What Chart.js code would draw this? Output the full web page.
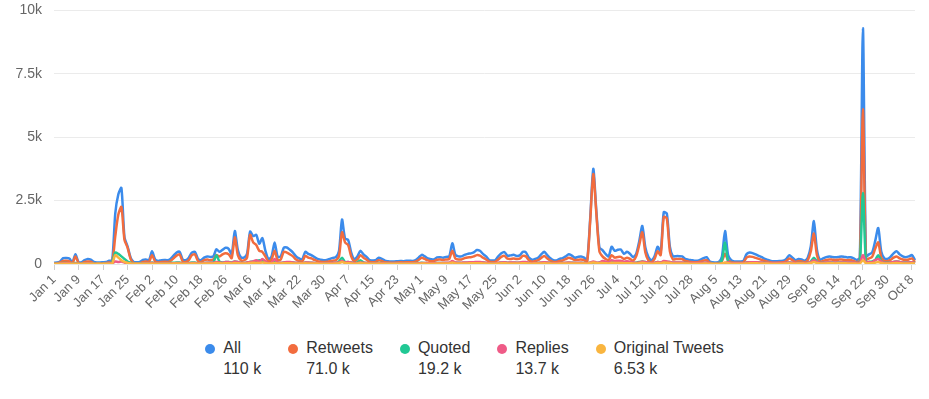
<!DOCTYPE html>
<html>
<head>
<meta charset="utf-8">
<script src="https://cdn.jsdelivr.net/npm/chart.js@4.4.1/dist/chart.umd.min.js"></script>
<style>
    body { margin: 0; background: #fff; font-family: "Liberation Sans", Arial, sans-serif; }
    #wrap { position: relative; width: 929px; height: 344px; margin-top: -10px; }
    #legend { display: flex; justify-content: center; gap: 27px; margin-top: 5px; color: #333; font-size: 16px; }
    .item { display: flex; align-items: flex-start; }
    .dot { width: 10px; height: 10px; border-radius: 50%; margin: 5px 8px 0 0; }
    .val { margin-top: 3px; }
</style>
</head>
<body>
<div id="wrap"><canvas id="myLineChart"></canvas></div>
<div id="legend"></div>
<script>
// one point per day, Jan 1 .. Oct 9
const monthNames = ['Jan', 'Feb', 'Mar', 'Apr', 'May', 'Jun', 'Jul', 'Aug', 'Sep', 'Oct'];
const monthDays = [31, 28, 31, 30, 31, 30, 31, 31, 30, 9];

const seriesNames = ['All', 'Retweets', 'Quoted', 'Replies', 'Original Tweets'];
const seriesTotals = ['110 k', '71.0 k', '19.2 k', '13.7 k', '6.53 k'];
const seriesColors = ['#3b8beb', '#f26c3e', '#21c894', '#ef5b87', '#f9b53f'];

const yTicks = [0, 2500, 5000, 7500, 10000];

const allValues = [
    50, 60, 100, 230, 240, 220, 60, 380, 80, 70,
    150, 200, 170, 80, 60, 60, 70, 80, 130, 150,
    2000, 2750, 3000, 1050, 700, 250, 80, 70, 80, 160,
    180, 150, 500, 180, 120, 150, 160, 150, 200, 330,
    450, 480, 180, 150, 250, 450, 480, 200, 150, 250,
    300, 280, 300, 580, 480, 560, 640, 600, 380, 1300,
    550, 260, 250, 400, 1280, 1100, 1150, 800, 1020, 520,
    180, 300, 850, 280, 300, 640, 650, 560, 450, 300,
    220, 180, 480, 400, 350, 270, 200, 170, 150, 160,
    200, 240, 270, 500, 1750, 1000, 950, 450, 180, 300,
    520, 380, 280, 150, 140, 150, 250, 200, 130, 110,
    100, 100, 110, 120, 110, 130, 130, 120, 150, 250,
    360, 300, 220, 190, 180, 260, 270, 250, 280, 300,
    820, 360, 300, 300, 360, 400, 420, 460, 550, 520,
    400, 300, 160, 140, 150, 300, 420, 470, 330, 340,
    360, 320, 340, 480, 460, 250, 170, 200, 250, 380,
    480, 350, 230, 150, 140, 200, 230, 300, 380, 330,
    250, 280, 300, 250, 150, 1800, 3750, 2100, 650, 550,
    400, 300, 680, 520, 560, 570, 400, 480, 400, 270,
    400, 900, 1500, 650, 270, 150, 300, 680, 480, 2040,
    1990, 680, 300, 310, 310, 300, 200, 170, 150, 130,
    130, 170, 230, 270, 100, 70, 60, 80, 300, 1300,
    350, 150, 100, 100, 100, 120, 380, 450, 430, 380,
    320, 270, 200, 160, 120, 110, 110, 120, 130, 200,
    350, 250, 150, 200, 180, 130, 250, 700, 1690, 550,
    160, 220, 270, 300, 280, 270, 280, 300, 280, 260,
    270, 220, 160, 250, 9300, 300, 380, 450, 900, 1420,
    480, 220, 200, 280, 420, 500, 380, 300, 270, 300,
    350, 150
];
const retweetValues = [
    30, 30, 60, 120, 130, 100, 30, 300, 40, 30,
    80, 100, 90, 30, 20, 20, 30, 40, 60, 60,
    1100, 1950, 2250, 950, 650, 200, 40, 30, 30, 80,
    100, 80, 350, 100, 60, 80, 90, 80, 120, 220,
    330, 380, 100, 80, 150, 350, 380, 120, 80, 150,
    180, 150, 180, 350, 300, 380, 420, 380, 230, 1050,
    350, 150, 140, 250, 1150, 850, 750, 520, 480, 300,
    90, 180, 520, 150, 180, 480, 450, 380, 300, 180,
    120, 100, 320, 250, 220, 160, 110, 90, 80, 90,
    110, 130, 150, 300, 1250, 850, 750, 300, 100, 180,
    350, 250, 170, 80, 70, 80, 150, 120, 70, 60,
    50, 50, 60, 70, 60, 70, 70, 70, 90, 160,
    250, 200, 140, 110, 110, 170, 180, 160, 180, 200,
    520, 220, 180, 180, 230, 260, 270, 300, 350, 330,
    250, 180, 90, 80, 80, 180, 280, 320, 210, 200,
    220, 200, 210, 320, 300, 150, 90, 110, 150, 240,
    320, 220, 130, 80, 80, 120, 140, 190, 250, 210,
    150, 170, 180, 150, 80, 1700, 3550, 2000, 500, 300,
    200, 150, 350, 250, 280, 280, 200, 250, 200, 130,
    300, 750, 1250, 450, 130, 70, 200, 500, 350, 1850,
    1800, 500, 180, 200, 200, 190, 120, 100, 80, 70,
    70, 100, 140, 150, 50, 30, 30, 40, 120, 400,
    150, 70, 50, 50, 50, 60, 250, 300, 280, 240,
    200, 160, 120, 90, 60, 50, 50, 60, 70, 120,
    220, 150, 80, 120, 100, 70, 150, 500, 1200, 350,
    80, 120, 160, 180, 170, 160, 170, 180, 160, 150,
    160, 120, 80, 150, 6100, 180, 220, 280, 600, 850,
    250, 120, 110, 160, 250, 300, 220, 180, 160, 180,
    220, 80
];
const quotedValues = [
    20, 20, 30, 40, 40, 30, 20, 40, 20, 20,
    30, 30, 30, 20, 20, 20, 20, 20, 30, 60,
    450, 400, 300, 200, 100, 50, 20, 20, 20, 30,
    30, 30, 60, 30, 20, 30, 30, 30, 40, 50,
    60, 60, 30, 30, 40, 60, 60, 30, 30, 40,
    50, 50, 60, 350, 100, 60, 80, 80, 60, 100,
    80, 40, 40, 60, 80, 100, 120, 150, 120, 60,
    30, 40, 80, 40, 40, 60, 70, 60, 60, 40,
    40, 30, 60, 50, 50, 40, 30, 30, 30, 30,
    30, 40, 40, 100, 250, 80, 80, 60, 30, 60,
    150, 60, 40, 30, 30, 30, 40, 40, 30, 20,
    20, 20, 20, 20, 20, 20, 20, 20, 30, 40,
    50, 40, 30, 30, 30, 40, 40, 40, 40, 40,
    80, 50, 50, 40, 50, 50, 50, 60, 70, 70,
    60, 40, 30, 30, 30, 40, 60, 60, 50, 50,
    50, 50, 50, 60, 60, 40, 30, 30, 40, 50,
    60, 50, 40, 30, 30, 30, 40, 40, 50, 50,
    40, 40, 50, 40, 30, 50, 60, 40, 60, 80,
    60, 50, 120, 90, 100, 100, 70, 80, 70, 50,
    50, 80, 100, 80, 50, 30, 40, 80, 60, 80,
    80, 80, 50, 50, 50, 50, 40, 30, 30, 30,
    30, 30, 40, 50, 20, 20, 20, 20, 150, 850,
    100, 40, 30, 30, 30, 30, 60, 70, 70, 60,
    60, 50, 40, 40, 30, 30, 30, 30, 30, 40,
    60, 40, 30, 40, 40, 30, 50, 100, 250, 100,
    40, 50, 50, 60, 60, 50, 60, 60, 60, 50,
    60, 40, 40, 50, 2800, 60, 80, 100, 150, 350,
    120, 50, 50, 60, 80, 100, 80, 60, 60, 60,
    70, 40
];
const replyValues = [
    10, 10, 20, 30, 30, 30, 10, 20, 10, 10,
    20, 30, 20, 10, 10, 10, 10, 10, 20, 30,
    100, 80, 100, 60, 40, 20, 10, 10, 10, 20,
    20, 20, 50, 20, 20, 20, 20, 20, 20, 30,
    40, 40, 20, 20, 30, 40, 40, 20, 20, 40,
    50, 50, 50, 80, 60, 50, 80, 80, 50, 100,
    80, 40, 40, 60, 80, 100, 150, 80, 200, 100,
    30, 50, 200, 50, 50, 60, 80, 80, 60, 50,
    40, 30, 60, 60, 50, 40, 30, 30, 20, 20,
    30, 40, 50, 60, 120, 60, 80, 60, 30, 40,
    60, 50, 40, 20, 20, 20, 30, 30, 20, 20,
    20, 20, 20, 20, 20, 20, 30, 20, 20, 30,
    40, 40, 30, 30, 30, 40, 40, 40, 50, 50,
    120, 60, 50, 50, 60, 60, 70, 70, 80, 80,
    60, 50, 30, 20, 30, 50, 60, 70, 50, 60,
    60, 50, 60, 80, 80, 40, 30, 40, 40, 60,
    70, 60, 40, 30, 30, 40, 40, 50, 60, 50,
    40, 50, 50, 40, 30, 60, 100, 60, 60, 120,
    100, 60, 150, 120, 130, 130, 90, 110, 90, 60,
    40, 60, 100, 80, 50, 40, 50, 80, 60, 120,
    100, 80, 60, 60, 60, 60, 40, 40, 40, 40,
    40, 40, 50, 60, 20, 10, 10, 10, 20, 40,
    80, 40, 30, 30, 30, 30, 60, 70, 70, 70,
    60, 60, 40, 50, 40, 40, 40, 40, 40, 50,
    60, 50, 40, 40, 40, 30, 50, 80, 150, 80,
    40, 50, 60, 60, 50, 60, 50, 60, 60, 60,
    60, 60, 40, 50, 350, 60, 80, 70, 150, 200,
    100, 50, 40, 60, 80, 100, 80, 60, 50, 60,
    70, 30
];
const originalValues = [
    5, 5, 10, 10, 10, 10, 5, 10, 5, 5,
    10, 10, 10, 5, 5, 5, 5, 10, 10, 20,
    350, 250, 150, 80, 40, 20, 10, 10, 10, 10,
    10, 10, 20, 10, 10, 10, 10, 10, 10, 20,
    20, 20, 10, 10, 10, 20, 20, 10, 10, 20,
    20, 20, 20, 40, 30, 20, 30, 30, 20, 40,
    30, 20, 20, 20, 40, 50, 40, 40, 60, 40,
    20, 20, 40, 20, 20, 30, 30, 30, 20, 20,
    20, 20, 30, 20, 20, 20, 20, 10, 10, 10,
    10, 10, 20, 30, 80, 40, 30, 20, 10, 20,
    40, 20, 20, 10, 10, 10, 20, 10, 10, 10,
    10, 10, 10, 10, 10, 10, 10, 10, 10, 10,
    20, 20, 10, 10, 10, 20, 20, 20, 20, 20,
    60, 20, 20, 20, 20, 20, 30, 30, 30, 30,
    20, 20, 10, 10, 10, 20, 30, 30, 20, 20,
    20, 20, 20, 30, 30, 20, 10, 20, 20, 20,
    30, 20, 20, 10, 10, 20, 20, 20, 20, 20,
    20, 20, 20, 20, 10, 40, 60, 40, 30, 40,
    30, 20, 50, 40, 40, 40, 30, 30, 30, 20,
    20, 30, 50, 30, 20, 10, 20, 40, 30, 60,
    50, 40, 20, 20, 20, 20, 20, 20, 10, 10,
    10, 10, 20, 20, 10, 5, 5, 5, 20, 60,
    30, 10, 10, 10, 10, 10, 20, 30, 30, 30,
    20, 20, 20, 20, 10, 10, 10, 10, 10, 20,
    30, 20, 10, 20, 20, 10, 20, 40, 80, 40,
    20, 20, 20, 30, 30, 20, 30, 30, 30, 20,
    20, 20, 10, 20, 150, 30, 30, 30, 50, 80,
    40, 20, 20, 20, 30, 40, 30, 20, 20, 20,
    30, 10
];

function buildDayLabels() {
    var labels = [];
    for (var m = 0; m < monthNames.length; m++) {
        for (var d = 1; d <= monthDays[m]; d++) {
            labels.push(`${monthNames[m]} ${d}`);
        }
    }
    return labels;
}

function showLegend() {
    var html = '';
    seriesNames.forEach(function (name, i) {
        html += `<div class="item"><span class="dot" style="background:${seriesColors[i]}"></span>` +
            `<div><div>${name}</div><div class="val">${seriesTotals[i]}</div></div></div>`;
    });
    document.getElementById('legend').innerHTML = html;
}

function showLineChart() {
    var xValues = buildDayLabels();
    var seriesValues = [allValues, retweetValues, quotedValues, replyValues, originalValues];
    var tickFont = { family: '"Liberation Sans", Arial, sans-serif', size: 13 };

    new Chart('myLineChart', {
        type: 'line',
        data: {
            labels: xValues,
            datasets: seriesValues.map(function (values, i) {
                return {
                    label: seriesNames[i],
                    data: values,
                    borderColor: seriesColors[i],
                    backgroundColor: seriesColors[i],
                    borderWidth: 2.5,
                    pointRadius: 0,
                    tension: 0.25,
                    fill: false,
                    order: seriesNames.length - i
                };
            })
        },
        options: {
            responsive: true,
            maintainAspectRatio: false,
            animation: false,
            layout: { padding: { top: 0, right: 14, left: 0, bottom: 0 } },
            plugins: { legend: { display: false }, tooltip: { enabled: false } },
            scales: {
                x: {
                    grid: { drawOnChartArea: false, tickLength: 6, color: '#cfcfcf' },
                    border: { color: '#e6e6e6' },
                    ticks: {
                        autoSkip: false,
                        minRotation: 45,
                        maxRotation: 45,
                        padding: 2,
                        color: '#666',
                        font: tickFont,
                        callback: function (value, index) {
                            return index % 8 === 0 ? this.getLabelForValue(value) : null;
                        }
                    },
                    afterFit: function (scale) { scale.height = 70; }
                },
                y: {
                    min: yTicks[0],
                    max: yTicks[yTicks.length - 1],
                    grid: { color: '#ebebeb', drawTicks: false },
                    border: { display: false },
                    ticks: {
                        stepSize: yTicks[1] - yTicks[0],
                        padding: 12,
                        color: '#666',
                        font: { family: tickFont.family, size: 14 },
                        callback: function (v) { return v === 0 ? '0' : (v / 1000) + 'k'; }
                    },
                    afterFit: function (scale) { scale.width = 54; }
                }
            }
        }
    });
}

showLegend();
showLineChart();
</script>
</body>
</html>
